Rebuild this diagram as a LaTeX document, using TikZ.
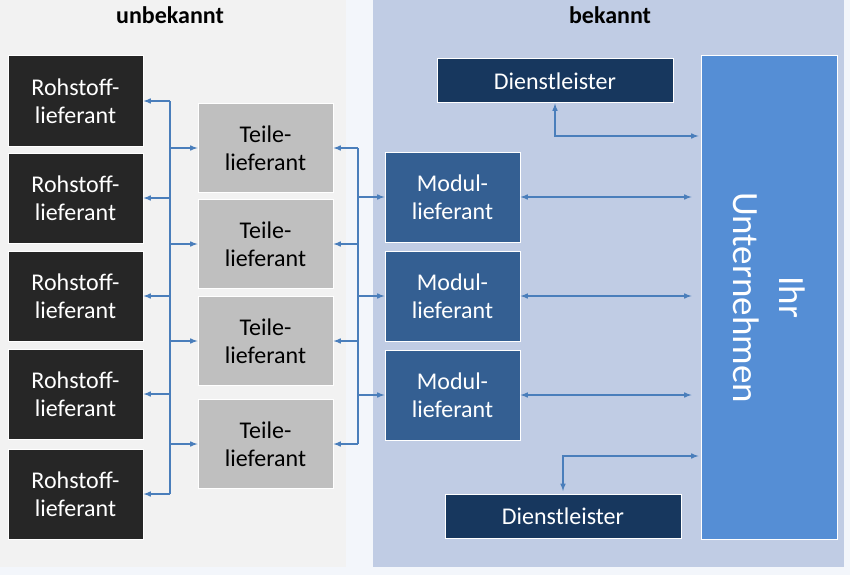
\documentclass[tikz,border=0pt]{standalone}
\usepackage{fontspec}
\setmainfont{Carlito}
\usetikzlibrary{arrows}

\definecolor{pagebg}{HTML}{F3F6FB}
\definecolor{leftbg}{HTML}{F2F2F2}
\definecolor{rightbg}{HTML}{C0CCE4}
\definecolor{rohcol}{HTML}{262626}
\definecolor{teilcol}{HTML}{BFBFBF}
\definecolor{modcol}{HTML}{345F92}
\definecolor{dlcol}{HTML}{17375E}
\definecolor{ihrcol}{HTML}{558ED5}
\definecolor{arrcol}{HTML}{4A7EBB}

\tikzset{
	box/.style={draw=white, line width=1pt, inner sep=0pt, align=center,
		font=\fontsize{24}{28}\selectfont},
	rohbox/.style={box, fill=rohcol, text=white, minimum width=135pt, minimum height=90pt},
	teilbox/.style={box, fill=teilcol, text=black, minimum width=135pt, minimum height=89pt},
	modbox/.style={box, fill=modcol, text=white, minimum width=135pt, minimum height=90pt},
	dlbox/.style={box, fill=dlcol, text=white, minimum width=236pt, minimum height=44pt},
	ihrbox/.style={box, fill=ihrcol, text=white, minimum width=136pt, minimum height=483pt},
	head/.style={font=\fontsize{24}{28}\selectfont\bfseries},
	conn/.style={draw=arrcol, line width=1.5pt},
	arr/.style={conn, -latex},
	dbl/.style={conn, latex-latex}
}

\begin{document}
\begin{tikzpicture}[x=1pt, y=-1pt]

%Background
\useasboundingbox (0,0) rectangle (850,575);
\fill[pagebg] (0,0) rectangle (850,575);
\fill[leftbg] (0,0) rectangle (346,567);
\fill[rightbg] (373,0) rectangle (844,567);

\node[head] (unb) at (170,15) {unbekannt};
\node[head] (bek) at (610,15) {bekannt};

%Boxes
\foreach \i/\y in {1/101, 2/198, 3/296, 4/394, 5/494}
{
	\node[rohbox] (r\i) at (75.5,\y) {Rohstoff-\\lieferant};
}

\foreach \i/\y in {1/148, 2/244, 3/341, 4/444}
{
	\node[teilbox] (t\i) at (265.5,\y) {Teile-\\lieferant};
}

\foreach \i/\y in {1/197, 2/296, 3/395}
{
	\node[modbox] (m\i) at (452.5,\y) {Modul-\\lieferant};
}

\node[dlbox] (d1) at (555,81) {Dienstleister};
\node[dlbox] (d2) at (563,516.5) {Dienstleister};

\node[ihrbox] (ihr) at (769,297.5) {};
\node[text=white, align=center, rotate=-90, font=\fontsize{37}{46}\selectfont] (ihrtext) at (ihr.center) {Ihr\\Unternehmen};

%Busses
\coordinate (busL) at (170,0);
\coordinate (busR) at (358,0);

\draw[conn] (busL |- r1.east) -- (busL |- r5.east);
\draw[conn] (busR |- t1.east) -- (busR |- t4.east);

\foreach \i in {1,...,5}
	\draw[arr] (busL |- r\i.east) -- (r\i.east);
\foreach \i in {1,...,4}
{
	\draw[arr] (busL |- t\i.west) -- (t\i.west);
	\draw[arr] (busR |- t\i.east) -- (t\i.east);
}
\foreach \i in {1,...,3}
{
	\draw[arr] (busR |- m\i.west) -- (m\i.west);
	\draw[dbl, shorten >=9pt] (m\i.east) -- (ihr.west |- m\i.east);
}

%Dienstleister
\draw[dbl, shorten >=2pt] (d1.south) |- (ihr.west |- 0,136);
\draw[dbl, shorten >=2pt, shorten <=3pt] (d2.north) |- (ihr.west |- 0,456);

\end{tikzpicture}
\end{document}
